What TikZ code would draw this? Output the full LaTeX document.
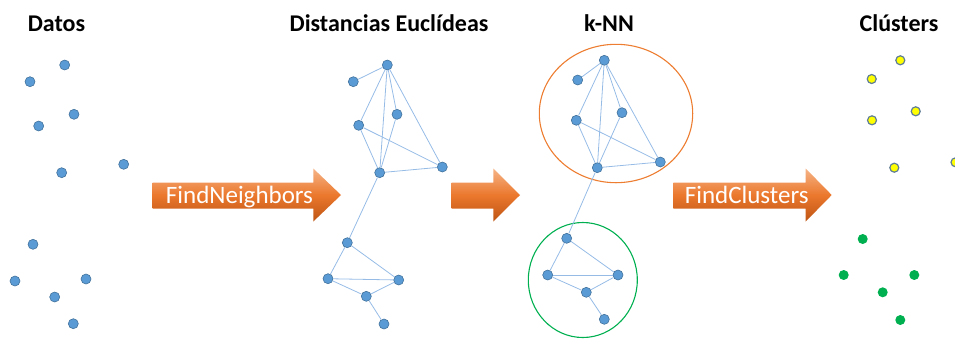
\documentclass[tikz,border=0pt]{standalone}
\usepackage{fontspec}
\setmainfont{Carlito}
\definecolor{dotblue}{RGB}{91,155,213}
\definecolor{dotedge}{RGB}{65,113,156}
\definecolor{edgeblue}{RGB}{150,188,230}
\definecolor{ringorange}{RGB}{237,125,49}
\definecolor{ringgreen}{RGB}{0,176,80}
\definecolor{arrtop}{RGB}{246,180,135}
\definecolor{arrmid}{RGB}{235,120,45}
\definecolor{arrbot}{RGB}{190,85,20}
\definecolor{ydot}{RGB}{255,255,0}
\definecolor{yedge}{RGB}{95,125,150}
\begin{document}
\begin{tikzpicture}[x=1pt,y=-1pt,
  pt/.style={circle,fill=dotblue,draw=dotedge,line width=0.6pt,minimum size=10pt,inner sep=0pt},
  ypt/.style={circle,fill=ydot,draw=yedge,line width=1.2pt,minimum size=9pt,inner sep=0pt},
  gpt/.style={circle,fill=ringgreen,minimum size=10pt,inner sep=0pt},
  lnk/.style={draw=edgeblue,line width=0.8pt},
  ttl/.style={anchor=base,font=\fontsize{24}{28}\selectfont\bfseries,inner sep=0pt},
  arrtxt/.style={anchor=base,font=\fontsize{25}{30}\selectfont,text=white,inner sep=0pt},
  fatarrow/.style={top color=arrtop,bottom color=arrbot,middle color=arrmid}]
\useasboundingbox (0,0) rectangle (955,338);

% titles
\node[ttl] (t1) at (56.5,31.5) {Datos};
\node[ttl] (t2) at (389,31.5) {Distancias Euclídeas};
\node[ttl] (t3) at (609,31.5) {k-NN};
\node[ttl] (t4) at (899,31.5) {Clústers};

% arrows
\shade[fatarrow] (152.7,182.5) -- (313.3,182.5) -- (313.3,168.5) -- (341,195) -- (313.3,221.5) -- (313.3,208.5) -- (152.7,208.5) -- cycle;
\node[arrtxt] (a1) at (239.5,203.3) {FindNeighbors};
\shade[fatarrow] (451.7,182.5) -- (493.3,182.5) -- (493.3,168.5) -- (520,195) -- (493.3,221.5) -- (493.3,208.5) -- (451.7,208.5) -- cycle;
\shade[fatarrow] (673.3,182.5) -- (805.7,182.5) -- (805.7,168.5) -- (831.7,195) -- (805.7,221.5) -- (805.7,208.5) -- (673.3,208.5) -- cycle;
\node[arrtxt] (a3) at (746.7,203.3) {FindClusters};

% Datos
\node[pt] (d1) at (64.7,65) {};
\node[pt] (d2) at (30,81.7) {};
\node[pt] (d3) at (74,114.3) {};
\node[pt] (d4) at (38.7,126) {};
\node[pt] (d5) at (61.7,172.7) {};
\node[pt] (d6) at (123.7,164.3) {};
\node[pt] (d7) at (33,244.3) {};
\node[pt] (d8) at (15,281) {};
\node[pt] (d9) at (86,279) {};
\node[pt] (d10) at (54.7,297) {};
\node[pt] (d11) at (73.3,323.7) {};

% Distancias
\node[pt] (eA) at (387.3,65) {};
\node[pt] (eB) at (353.3,81.7) {};
\node[pt] (eC) at (397,114.3) {};
\node[pt] (eD) at (358.7,125.3) {};
\node[pt] (eE) at (379.7,172.7) {};
\node[pt] (eF) at (442.3,167) {};
\node[pt] (eG) at (347.3,242.7) {};
\node[pt] (eH) at (328,278.7) {};
\node[pt] (eI) at (398.7,280) {};
\node[pt] (eJ) at (366.3,296.3) {};
\node[pt] (eK) at (384,324) {};
\foreach \a/\b in {A/B,A/D,A/C,A/E,A/F,D/E,D/F,C/E,E/F,E/G,G/H,G/I,H/I,H/J,J/I,J/K}
  \path[lnk] (e\a) -- (e\b);

% k-NN
\draw[ringorange,line width=1.1pt] (616,113.5) ellipse [x radius=76.7,y radius=69.2];
\draw[ringgreen,line width=1.1pt] (582.8,280) ellipse [x radius=54.5,y radius=57.5];
\node[pt] (kA) at (604.3,60.3) {};
\node[pt] (kB) at (577.7,80) {};
\node[pt] (kC) at (622,112.7) {};
\node[pt] (kD) at (576.3,120.3) {};
\node[pt] (kE) at (597.3,167.7) {};
\node[pt] (kF) at (660.3,162) {};
\node[pt] (kG) at (566.7,238.3) {};
\node[pt] (kH) at (547.7,275) {};
\node[pt] (kI) at (618,275) {};
\node[pt] (kJ) at (586.3,292.3) {};
\node[pt] (kK) at (604.3,319.3) {};
\foreach \a/\b in {A/B,A/D,A/C,A/E,A/F,D/E,D/F,C/E,E/F,E/G,G/H,G/I,H/I,H/J,J/I,J/K}
  \path[lnk] (k\a) -- (k\b);

% Clusters
\node[ypt] (c1) at (900.3,60.3) {};
\node[ypt] (c2) at (871.7,79) {};
\node[ypt] (c3) at (915.7,111.3) {};
\node[ypt] (c4) at (872,120.3) {};
\node[ypt] (c5) at (894.3,167.7) {};
\node[ypt] (c6) at (955.5,162.3) {};
\node[gpt] (c7) at (862.7,239) {};
\node[gpt] (c8) at (843.7,275) {};
\node[gpt] (c9) at (914.3,275) {};
\node[gpt] (c10) at (882.7,292.3) {};
\node[gpt] (c11) at (900.3,320) {};
\end{tikzpicture}
\end{document}
